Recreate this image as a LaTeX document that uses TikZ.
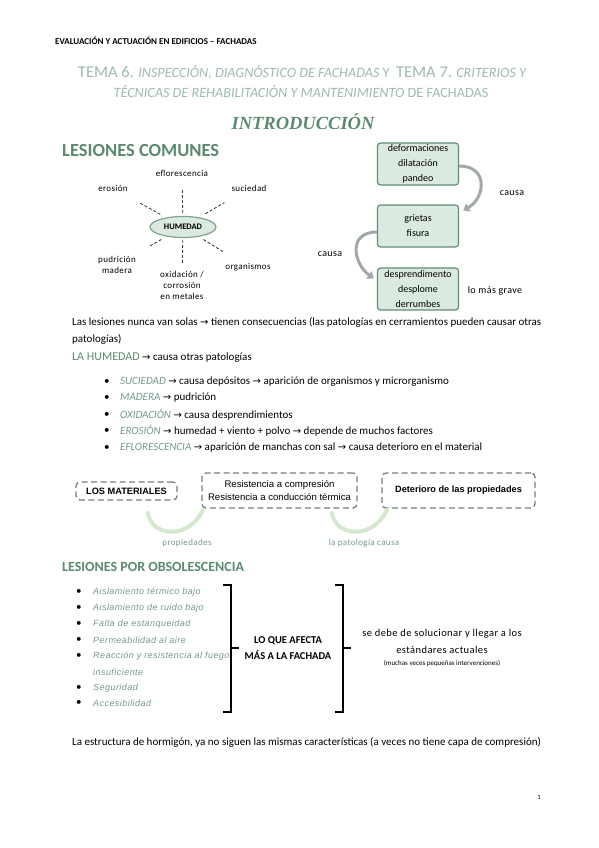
\documentclass[tikz,border=0pt]{standalone}
\usepackage{fontspec}
\setmainfont{Carlito}
\newfontfamily\espaciada[LetterSpace=4]{Carlito}
\newfontfamily\arialfont{Liberation Sans}
\newfontfamily\gotica[LetterSpace=5]{Liberation Sans}
\newfontfamily\romana{Liberation Serif}
\newfontfamily\symfont{DejaVu Sans}
\usetikzlibrary{calc,arrows.meta,shapes.geometric}
\definecolor{titulo}{RGB}{158,188,173}
\definecolor{verdeosc}{RGB}{92,138,112}
\definecolor{verdeit}{RGB}{115,155,134}
\definecolor{cajafondo}{RGB}{218,234,224}
\definecolor{cajaborde}{RGB}{98,140,115}
\definecolor{flechagris}{RGB}{160,168,170}
\definecolor{flechaverde}{RGB}{212,232,206}
\definecolor{trazo}{RGB}{120,126,122}
\newcommand{\fl}{{\symfont\fontsize{10}{10}\selectfont →}}
\newcommand{\clave}[1]{{\color{verdeit}\itshape #1}}
\newcommand{\grande}{\fontsize{16.5}{18}\selectfont}

\begin{document}
\begin{tikzpicture}[x=1pt,y=-1pt,
  texto/.style={anchor=west,inner sep=0pt,font=\fontsize{11}{13}\selectfont},
  seccion/.style={anchor=west,inner sep=0pt,text=verdeosc,font=\fontsize{14}{16}\selectfont\bfseries},
  etiq/.style={inner sep=0pt,align=center,font=\espaciada\fontsize{9}{11}\selectfont},
  caja/.style={draw=cajaborde,fill=cajafondo,line width=1.2pt,rounded corners=3pt,minimum width=81pt,minimum height=42pt,align=center,inner sep=0pt,font=\fontsize{10}{15}\selectfont},
  marco/.style={draw=trazo,line width=1.3pt,dash pattern=on 6pt off 3.5pt,rounded corners=4pt,align=center,inner sep=0pt,font=\arialfont\fontsize{9.6}{13}\selectfont},
  negrita/.style={font=\arialfont\bfseries\fontsize{9.2}{13}\selectfont},
  obs/.style={anchor=west,inner sep=0pt,text=verdeit,font=\gotica\itshape\fontsize{9}{10}\selectfont},
  rayo/.style={densely dashed,line width=0.9pt,draw=black!75},
  curva/.style={draw=flechagris,line width=3pt,-{Triangle[length=6pt,width=9pt]}},
  curvaverde/.style={draw=flechaverde,line width=4pt,line cap=round},
  llave/.style={line width=1.6pt}]
  \useasboundingbox[fill=white] (0,0) rectangle (599,848);

  \node[anchor=west,inner sep=0pt,font=\fontsize{9}{10}\selectfont\bfseries] (cabecera) at (55,41) {EVALUACIÓN Y ACTUACIÓN EN EDIFICIOS – FACHADAS};
  \node[inner sep=0pt,text=titulo,font=\fontsize{14.2}{18}\selectfont] (tit1) at (302,72) {{\grande TEMA 6.} {\itshape INSPECCIÓN, DIAGNÓSTICO DE FACHADAS} Y\ \ {\grande TEMA 7.} {\itshape CRITERIOS Y}};
  \node[inner sep=0pt,text=titulo,font=\fontsize{14.2}{18}\selectfont] (tit2) at (301,92) {{\itshape TÉCNICAS DE REHABILITACIÓN Y MANTENIMIENTO} DE FACHADAS};
  \node[inner sep=0pt,text=verdeosc,font=\romana\bfseries\itshape\fontsize{18.5}{20}\selectfont] (intro) at (303,122) {INTRODUCCIÓN};

  \node[seccion,font=\fontsize{18.5}{20}\selectfont\bfseries] (comunes) at (62,151) {LESIONES COMUNES};
  \node[ellipse,draw=cajaborde!80,fill=cajafondo,line width=1.2pt,minimum width=66pt,minimum height=21pt,inner sep=0pt,font=\fontsize{8.5}{9}\selectfont\bfseries] (hum) at (183,227) {HUMEDAD};
  \node[etiq] (eflo) at (182,173) {eflorescencia};
  \node[etiq] (ero) at (113,188) {erosión};
  \node[etiq] (suc) at (249,188) {suciedad};
  \node[etiq] (pud) at (117,265) {pudrición\\madera};
  \node[etiq] (oxi) at (182,285) {oxidación /\\corrosión\\en metales};
  \node[etiq] (org) at (248,267) {organismos};
  \foreach \n/\a/\b in {eflo/14/37,ero/26/50,suc/26/48,pud/25/40,oxi/13/38,org/24/49}
    \draw[rayo] ($(hum)!\a pt!(\n)$) -- ($(hum)!\b pt!(\n)$);

  \node[caja] (b1) at (418,164) {deformaciones\\dilatación\\pandeo};
  \node[caja] (b2) at (418,226) {grietas\\fisura};
  \node[caja] (b3) at (418,289) {desprendimento\\desplome\\derrumbes};
  \draw[curva] ([yshift=-2pt]b1.east) .. controls +(30,0) and +(22,-12) .. ([xshift=4pt,yshift=-6pt]b2.north east);
  \draw[curva] ([yshift=-6pt]b2.west) .. controls +(-30,0) and +(-20,-14) .. ([xshift=-3pt,yshift=-11pt]b3.north west);
  \node[etiq,font=\espaciada\fontsize{10}{11}\selectfont] (causa1) at (512,193) {causa};
  \node[etiq,font=\espaciada\fontsize{10}{11}\selectfont] (causa2) at (330,254) {causa};
  \node[etiq,font=\espaciada\fontsize{10}{11}\selectfont] (grave) at (495,291) {lo más grave};

  \node[texto] (par1) at (72,322) {Las lesiones nunca van solas \fl{} tienen consecuencias (las patologías en cerramientos pueden causar otras};
  \node[texto] (par2) at (72,339) {patologías)};
  \node[texto] (lahum) at (72,358) {{\color{verdeosc}\fontsize{12}{13}\selectfont LA HUMEDAD} \fl{} causa otras patologías};
  \foreach \y in {382,398,415,431,448}
    \node[texto] at (104,\y) {\textbullet};
  \node[texto] (i1) at (120,382) {\clave{SUCIEDAD} \fl{} causa depósitos \fl{} aparición de organismos y microrganismo};
  \node[texto] (i2) at (120,398) {\clave{MADERA} \fl{} pudrición};
  \node[texto] (i3) at (120,415) {\clave{OXIDACIÓN} \fl{} causa desprendimientos};
  \node[texto] (i4) at (120,431) {\clave{EROSIÓN} \fl{} humedad + viento + polvo \fl{} depende de muchos factores};
  \node[texto] (i5) at (120,448) {\clave{EFLORESCENCIA} \fl{} aparición de manchas con sal \fl{} causa deterioro en el material};

  \node[marco,negrita,minimum width=101pt,minimum height=18pt] (mat) at (126.5,491) {LOS MATERIALES};
  \node[marco,minimum width=155pt,minimum height=35pt] (prop) at (279.5,490.5) {Resistencia a compresión\\Resistencia a conducción térmica};
  \node[marco,negrita,minimum width=153pt,minimum height=35pt] (det) at (458.5,490.5) {Deterioro de las propiedades};
  \draw[curvaverde] (148,513) .. controls (151,536) and (188,541) .. (203,510);
  \draw[curvaverde] (332,513) .. controls (335,536) and (372,541) .. (387,510);
  \node[etiq,text=verdeit] (propied) at (187,543) {propiedades};
  \node[etiq,text=verdeit] (patcausa) at (364,543) {la patología causa};

  \node[seccion] (obsol) at (62,567) {LESIONES POR OBSOLESCENCIA};
  \foreach \y in {592,608,624,640,656,688,703}
    \node[texto] at (76,\y) {\textbullet};
  \node[obs] (o1) at (93,592) {Aislamiento térmico bajo};
  \node[obs] (o2) at (93,608) {Aislamiento de ruido bajo};
  \node[obs] (o3) at (93,624) {Falta de estanqueidad};
  \node[obs] (o4) at (93,640) {Permeabilidad al aire};
  \node[obs] (o5) at (93,656) {Reacción y resistencia al fuego};
  \node[obs] (o6) at (93,672) {insuficiente};
  \node[obs] (o7) at (93,688) {Seguridad};
  \node[obs] (o8) at (93,703) {Accesibilidad};
  \draw[llave] (223,585) -- (231,585) -- (231,712) -- (223,712);
  \draw[llave] (231,648) -- (239,648);
  \node[inner sep=0pt,align=center,font=\fontsize{10.5}{16}\selectfont\bfseries] (afecta) at (288,648) {LO QUE AFECTA\\MÁS A LA FACHADA};
  \draw[llave] (335,585) -- (343,585) -- (343,712) -- (335,712);
  \draw[llave] (343,648) -- (351,648);
  \node[etiq,font=\espaciada\fontsize{10.5}{11}\selectfont] (sol1) at (442,634) {se debe de solucionar y llegar a los};
  \node[etiq,font=\espaciada\fontsize{10.5}{11}\selectfont] (sol2) at (442,650) {estándares actuales};
  \node[etiq,font=\fontsize{7}{8}\selectfont] (sol3) at (442,663) {(muchas veces pequeñas intervenciones)};

  \node[texto] (horm) at (72,742) {La estructura de hormigón, ya no siguen las mismas características (a veces no tiene capa de compresión)};
  \node[inner sep=0pt,font=\fontsize{6.5}{7}\selectfont] (pag) at (539,797) {1};
\end{tikzpicture}
\end{document}
